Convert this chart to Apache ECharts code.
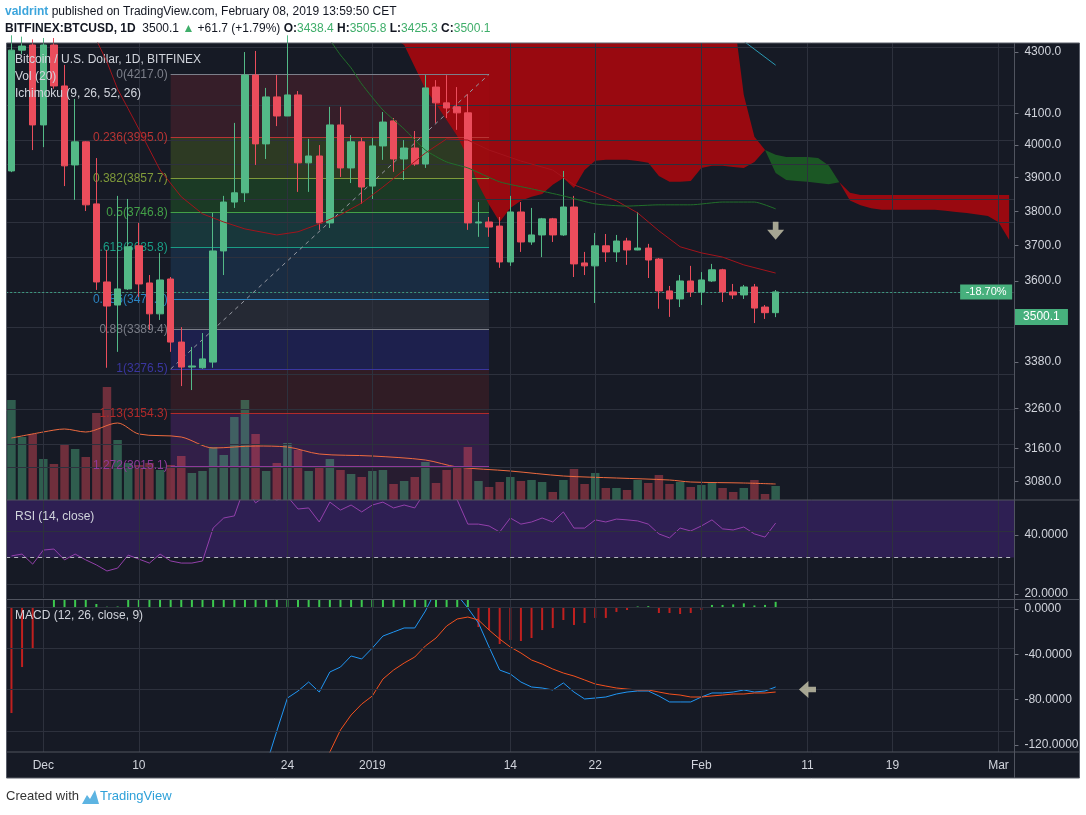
<!DOCTYPE html>
<html><head><meta charset="utf-8"><title>BTCUSD</title>
<script src="https://cdn.jsdelivr.net/npm/echarts@6.0.0/dist/echarts.min.js"></script>
<style>html,body{margin:0;padding:0;background:#fff}#chart{width:1086px;height:815px}</style>
</head><body><div id="chart"></div>
<script>
// ---------------- DATA ----------------
const categories = [
'2018-11-28','2018-11-29','2018-11-30',
'2018-12-01','2018-12-02','2018-12-03','2018-12-04','2018-12-05','2018-12-06','2018-12-07','2018-12-08','2018-12-09','2018-12-10',
'2018-12-11','2018-12-12','2018-12-13','2018-12-14','2018-12-15','2018-12-16','2018-12-17','2018-12-18','2018-12-19','2018-12-20',
'2018-12-21','2018-12-22','2018-12-23','2018-12-24','2018-12-25','2018-12-26','2018-12-27','2018-12-28','2018-12-29','2018-12-30','2018-12-31',
'2019-01-01','2019-01-02','2019-01-03','2019-01-04','2019-01-05','2019-01-06','2019-01-07','2019-01-08','2019-01-09','2019-01-10',
'2019-01-11','2019-01-12','2019-01-13','2019-01-14','2019-01-15','2019-01-16','2019-01-17','2019-01-18','2019-01-19','2019-01-20',
'2019-01-21','2019-01-22','2019-01-23','2019-01-24','2019-01-25','2019-01-26','2019-01-27','2019-01-28','2019-01-29','2019-01-30','2019-01-31',
'2019-02-01','2019-02-02','2019-02-03','2019-02-04','2019-02-05','2019-02-06','2019-02-07','2019-02-08','2019-02-09','2019-02-10',
'2019-02-11','2019-02-12','2019-02-13','2019-02-14','2019-02-15','2019-02-16','2019-02-17','2019-02-18','2019-02-19','2019-02-20',
'2019-02-21','2019-02-22','2019-02-23','2019-02-24','2019-02-25','2019-02-26','2019-02-27','2019-02-28','2019-03-01','2019-03-02'];

const tickDates = ['2018-12-01','2018-12-10','2018-12-24','2019-01-01','2019-01-14','2019-01-22','2019-02-01','2019-02-11','2019-02-19','2019-03-01'];
const tickTexts = ['Dec','10','24','2019','14','22','Feb','11','19','Mar'];

// open, close, low, high  (Nov 28 2018 -> Feb 8 2019)
const ohlc = [
[3882,4305,3878,4360],[4305,4320,4290,4355],[4324,4038,3952,4345],
[4038,4324,3962,4350],[4324,4175,4165,4350],[4175,3899,3832,4251],[3902,3980,3787,4129],[3980,3771,3751,3982],
[3774,3530,3506,3925],[3530,3458,3280,3628],[3461,3509,3325,3800],[3509,3638,3506,3790],[3641,3524,3485,3713],
[3527,3435,3388,3551],[3435,3536,3417,3619],[3539,3353,3325,3545],[3353,3282,3229,3396],[3282,3285,3218,3339],
[3280,3305,3277,3379],[3296,3625,3280,3745],[3625,3780,3551,3800],[3780,3810,3761,4045],[3810,4214,3780,4298],
[4214,3973,3902,4302],[3973,4136,3922,4168],[4136,4069,4034,4214],[4069,4143,4069,4360],[4143,3909,3813,4157],
[3909,3932,3813,3990],[3932,3713,3691,3969],[3713,4038,3697,4101],[4038,3892,3862,4101],[3892,3980,3842,4003],[3980,3829,3774,3993],
[3832,3966,3790,3993],[3966,4048,3919,4083],[4052,3922,3879,4062],[3922,3959,3852,3986],[3959,3905,3899,4017],
[3905,4168,3892,4214],[4171,4115,4045,4196],[4115,4097,4062,4214],[4101,4080,4021,4171],[4080,3713,3691,4146],
[3713,3716,3669,3780],[3716,3700,3669,3732],[3703,3591,3573,3732],[3591,3748,3579,3800],[3748,3653,3622,3780],
[3653,3675,3644,3761],[3675,3726,3606,3729],[3726,3675,3653,3729],[3675,3764,3672,3882],[3764,3585,3545,3800],
[3588,3579,3551,3622],[3579,3641,3467,3681],[3641,3622,3591,3678],[3622,3656,3591,3675],[3656,3628,3582,3666],
[3628,3634,3627,3748],[3634,3597,3542,3647],[3600,3503,3450,3603],[3503,3479,3426,3518],[3479,3533,3455,3551],[3533,3500,3485,3579],
[3500,3536,3461,3560],[3533,3567,3530,3585],[3567,3500,3470,3570],[3500,3491,3479,3524],[3491,3515,3479,3521],
[3515,3452,3408,3524],[3455,3438.4,3420,3461],[3438.4,3500.1,3425.3,3505.8]];

const volume = [20.0,12.6,13.2,
8.2,7.2,11.2,10.2,8.6,17.4,22.6,12.0,7.4,7.0,7.4,6.0,7.0,8.8,5.4,5.8,10.6,9.0,16.6,20.0,13.2,5.8,7.4,11.4,10.0,5.8,6.6,8.2,6.0,5.2,4.6,
5.8,6.0,3.2,3.8,4.6,7.6,3.4,6.0,6.4,10.6,3.8,2.6,3.6,4.6,3.8,4.0,3.6,1.6,4.0,6.2,3.2,5.4,2.4,2.4,2.0,4.0,3.4,5.0,3.2,3.6,2.6,
3.0,3.4,2.4,1.6,2.4,4.0,1.2,2.8];

const volumeMA = [['2018-11-28',12.4],['2018-12-01',13.6],['2018-12-03',14.2],['2018-12-05',13.6],['2018-12-08',15.4],
['2018-12-10',13.2],['2018-12-14',12.6],['2018-12-17',10.4],['2018-12-21',10.8],['2018-12-24',10.6],['2018-12-27',9.2],
['2019-01-01',8.8],['2019-01-06',8.0],['2019-01-09',6.6],['2019-01-14',5.8],['2019-01-19',4.8],['2019-01-24',4.4],
['2019-01-29',4.0],['2019-01-31',3.6],['2019-02-05',3.4],['2019-02-08',3.2]];

// Ichimoku lines (date, price)
const baseLine = [['2018-12-05',4380],['2018-12-06',4343],['2018-12-07',4262],['2018-12-08',4164],['2018-12-09',4094],
['2018-12-10',4024],['2018-12-12',3885],['2018-12-14',3797],['2018-12-16',3742],['2018-12-18',3716],['2018-12-20',3694],
['2018-12-23',3675],['2018-12-25',3685],['2018-12-27',3710],['2018-12-29',3739],['2018-12-31',3777],['2019-01-02',3829],
['2019-01-04',3885],['2019-01-06',3942],['2019-01-08',3990],['2019-01-10',3986],['2019-01-12',3952],['2019-01-15',3915],
['2019-01-18',3885],['2019-01-20',3836],['2019-01-22',3810],['2019-01-24',3784],['2019-01-26',3745],['2019-01-28',3688],
['2019-01-30',3638],['2019-02-01',3619],['2019-02-03',3606],['2019-02-05',3582],['2019-02-08',3557]];
const greenLine = [['2018-12-27',4391],['2018-12-28',4343],['2018-12-29',4287],['2018-12-30',4240],['2018-12-31',4182],
['2019-01-02',4090],['2019-01-04',4024],['2019-01-06',3952],['2019-01-08',3912],['2019-01-10',3892],['2019-01-13',3846],
['2019-01-16',3823],['2019-01-19',3800],['2019-01-22',3774],['2019-01-25',3767],['2019-01-28',3771],['2019-01-31',3771],
['2019-02-03',3780],['2019-02-06',3780],['2019-02-08',3758]];
const tealLine = [['2019-02-04',4368],['2019-02-08',4250]];

// Cloud boundaries
const redCloud1Start = '2019-01-03';
const redCloud1Lower = [4349,4324,4243,4164,4111,4055,4000,3925,3836,3771,3716,3761,3784,3797,3806,3836,3859,3826,3885,3916,
3919,3919,3919,3915,3909,3865,3846,3846,3849,3892,3899,3899,3895,3892,3912,3952];
const redCloud1Upper = [4450,4450,4450,4450,4450,4450,4450,4450,4450,4450,4450,4450,4450,4450,4450,4450,4450,4450,4450,4450,
4450,4450,4450,4450,4450,4450,4450,4450,4450,4450,4450,4450,4450,4143,3997,3952];
const greenCloudStart = '2019-02-07';
const greenCloudUpper = [3952,3936,3929,3929,3929,3925,3900,3845];
const greenCloudLower = [3952,3875,3852,3849,3846,3842,3838,3845];
const redCloud2Start = '2019-02-14';
const redCloud2Upper = [3845,3810,3803,3803,3803,3803,3803,3803,3803,3803,3803,3803,3803,3803,3803,3803,3803];
const redCloud2Lower = [3845,3785,3770,3760,3755,3755,3755,3755,3755,3755,3752,3748,3745,3740,3735,3715,3660];

// Fibonacci retracement
const fibStart = '2018-12-13', fibEnd = '2019-01-12';
const fibRatios = ['0','0.236','0.382','0.5','0.618','0.786','0.88','1','1.13','1.272'];
const fibLevels = [4217.0,3995.0,3857.7,3746.8,3635.8,3477.8,3389.4,3276.5,3154.3,3015.1];

// price axis
const priceGridVals = [4300,4100,4000,3900,3800,3700,3600,3500,3380,3260,3160,3080,3000];
const priceTickLabels = [4300,4100,4000,3900,3800,3700,3600,3380,3260,3160,3080];
const lastPrice = 3500.1;
const changeText = '-18.70%';

// RSI (14)
const rsi = [30.6,31.3,27.5,
32.8,33.2,29.1,31.3,29.1,27.2,24.9,26.0,30.9,29.4,27.9,31.3,28.7,27.9,27.9,28.7,41.1,44.9,45.7,57.0,50.6,53.5,51.7,53.0,48.3,48.7,43.4,50.9,47.9,49.8,47.2,
49.8,50.9,48.7,49.8,48.7,55.0,57.0,54.0,51.7,42.6,42.6,41.9,39.6,44.9,42.6,43.4,44.9,43.4,47.2,41.1,41.1,44.2,43.4,44.5,44.2,43.8,42.6,38.9,37.4,41.1,40.0,
41.9,44.2,40.8,40.4,41.5,38.9,37.7,43.0];
const rsiTickLabels = [40, 20];

// MACD (12, 26, 9)
const macd = [null,null,null,null,null,null,null,null,null,null,null,null,null,null,null,null,null,null,null,null,null,null,
-175,-160,-152.9,-120,-88.1,-81.3,-72.6,-82.3,-62.9,-58.1,-47.4,-50.3,
-39.7,-28.1,-24.2,-20.3,-20.3,-3.9,16.5,24.2,11.6,-1.0,-15.5,-38.7,-61.0,-64.8,-72.6,-77.4,-78.4,-80.3,-73.5,-82.3,-89.0,-88.1,-87.1,-84.2,-82.3,-81.3,-81.3,-86.1,-91.9,-91.9,-91.9,
-87.1,-83.2,-83.2,-82.3,-80.3,-82.3,-81.3,-77.4];
const signal = [null,null,null,null,null,null,null,null,null,null,null,null,null,null,null,null,null,null,null,null,null,null,null,null,null,null,null,null,
-170,-162.6,-140.3,-119,-104.5,-93.9,
-86.1,-69.7,-61.0,-54.2,-48.4,-37.7,-30.0,-18.4,-11.6,-9.7,-12.6,-22.3,-31.0,-38.7,-44.5,-51.3,-55.2,-60.0,-63.9,-66.8,-70.6,-74.5,-76.5,-78.4,-79.4,-80.3,-80.3,-82.3,-84.2,-85.2,-87.1,
-87.1,-86.1,-85.2,-84.2,-84.2,-83.2,-83.2,-82.3];
const histogram = [-102.6,-58.1,-39.7,
-1,20,25,22,18,2.9,0.3,0.5,12,16,20,24,26,28,30,32,40,46,50,58,56,57,58,60,58,57,50,52,50,48,44,
44,42,37,34,28,34,45,42,23,8.7,-19.4,-22.3,-35.8,-31.9,-32.9,-30.0,-22.3,-20.3,-12.6,-17.4,-15.5,-10.6,-10.6,-4.8,-2.9,0.5,0.8,-5.8,-5.8,-6.8,-5.8,
-2.9,2,2,2.5,3.5,1.5,2,5];
const macdTickLabels = [0, -40, -80, -120];

// drawing markers
const downArrowAt = ['2019-02-08', 3688];
const leftArrowAt = ['2019-02-11', -79.8];

// ---------------- CHART ----------------
const FONT = '"Liberation Sans", Arial, sans-serif';
const BG = '#161a25', GRIDC = '#2d313d', SEP = '#50545f', TXT = '#d1d4dc';
const UP = '#53b987', DN = '#eb4d5c';
const ln = Math.log;
const ci = {}; categories.forEach((c, i) => ci[c] = i);

function fullArr(start, vals, fn) {
  const a = categories.map(() => '-');
  const s = ci[start];
  vals.forEach((v, i) => { a[s + i] = fn(v, i); });
  return a;
}
function cloud(id, start, lower, upper, color) {
  const base = fullArr(start, lower, v => ln(v));
  const band = fullArr(start, upper, (v, i) => ln(v) - ln(lower[i]));
  const common = {type: 'line', stack: id, symbol: 'none', showSymbol: false, silent: true,
    xAxisIndex: 0, yAxisIndex: 0, z: 2, lineStyle: {width: 0, opacity: 0}};
  return [
    Object.assign({}, common, {id: id + 'b', data: base}),
    Object.assign({}, common, {id: id + 't', data: band, areaStyle: {color: color, opacity: 1}})
  ];
}

const fibColors = ['#7c7f8a','#b83434','#7f9a3a','#43a047','#1a9c84','#2b82c0','#7a7d87','#3a36a0','#b22a2a','#8f3a9a'];
const fibFills = ['rgba(200,50,60,0.18)','rgba(140,190,30,0.20)','rgba(50,190,40,0.20)','rgba(30,160,140,0.22)',
  'rgba(40,130,200,0.18)','rgba(130,130,140,0.15)','rgba(50,50,200,0.25)','rgba(200,40,40,0.15)','rgba(150,50,200,0.22)',
  'rgba(200,50,150,0.10)'];

const priceMinTrue = 2928.9, priceMaxTrue = 4331.4;   // plotted scale
const priceMinLab = 3036.6, priceMaxLab = 4330.2;     // label scale

const vLines = tickDates.map(d => ({xAxis: d}));
const gridLineStyle = {color: GRIDC, width: 1, type: 'solid'};

const fibBands = [];
for (let i = 0; i < fibLevels.length - 1; i++) {
  fibBands.push([{coord: [fibStart, ln(fibLevels[i])], itemStyle: {color: fibFills[i]}},
                 {coord: [fibEnd, ln(fibLevels[i + 1])]}]);
}
fibBands.push([{coord: [fibStart, ln(fibLevels[fibLevels.length - 1])], itemStyle: {color: fibFills[9]}},
               {coord: [fibEnd, ln(priceMinTrue)]}]);
const fibLines = fibLevels.map((p, i) => [
  {coord: [fibStart, ln(p)], lineStyle: {color: fibColors[i], width: 1, type: 'solid'},
   label: {show: true, position: 'start', distance: 3, formatter: fibRatios[i] + '(' + p.toFixed(1) + ')',
           color: fibColors[i], fontSize: 12, fontFamily: FONT}},
  {coord: [fibEnd, ln(p)]}
]);
fibLines.push([
  {coord: [fibStart, ln(fibLevels[7])], lineStyle: {color: '#9598a1', width: 1, type: [4, 4]}, label: {show: false}},
  {coord: [fibEnd, ln(fibLevels[0])]}
]);

const xBase = {type: 'category', data: categories, boundaryGap: true,
  axisLine: {show: false}, axisTick: {show: false}, axisLabel: {show: false}, splitLine: {show: false}};

function labelAxis(gridIndex, min, max, vals, fmt) {
  return {type: 'value', gridIndex, position: 'right', min, max,
    axisLine: {show: false}, splitLine: {show: false},
    axisTick: {show: true, length: 4, lineStyle: {color: '#6a6d78'}, customValues: vals},
    axisLabel: {show: true, customValues: vals, formatter: fmt, color: TXT, fontSize: 12, fontFamily: FONT, margin: 10}};
}
function hiddenAxis(gridIndex, min, max) {
  return {type: 'value', gridIndex, min, max, show: false, splitLine: {show: false}};
}
function txt(left, top, text) {
  return {left, top, padding: 0, text, textStyle: {color: TXT, fontSize: 12, fontWeight: 'normal', fontFamily: FONT}};
}

const downArrow = 'path://M6,0 L12,0 L12,8 L18,8 L9,18 L0,8 L6,8 Z';
const leftArrow = 'path://M18,6 L18,12 L10,12 L10,18 L0,9 L10,0 L10,6 Z';

const option = {
  animation: false,
  backgroundColor: '#ffffff',
  grid: [
    {left: 6.15, width: 1008.3, top: 43, height: 457, show: false},
    {left: 6.15, width: 1008.3, top: 500, height: 98, show: false},
    {left: 6.15, width: 1008.3, top: 600, height: 152, show: false}
  ],
  xAxis: [
    Object.assign({}, xBase, {gridIndex: 0}),
    Object.assign({}, xBase, {gridIndex: 1}),
    Object.assign({}, xBase, {gridIndex: 2, axisLabel: {show: true, color: TXT, fontSize: 12, fontFamily: FONT, margin: 8,
      interval: (i, v) => tickDates.indexOf(v) >= 0, formatter: v => tickTexts[tickDates.indexOf(v)] || ''}})
  ],
  yAxis: [
    hiddenAxis(0, ln(priceMinTrue), ln(priceMaxTrue)),
    labelAxis(0, ln(priceMinLab), ln(priceMaxLab), priceTickLabels.map(v => ln(v)), v => Math.exp(v).toFixed(1)),
    hiddenAxis(0, 0, 91.4),
    hiddenAxis(1, 14.717, 51.698),
    labelAxis(1, 18.644, 51.864, rsiTickLabels, v => v.toFixed(4)),
    hiddenAxis(2, -140.32, 6.774),
    labelAxis(2, -126.18, 7.94, macdTickLabels, v => (Math.abs(v) < 1e-9 ? 0 : v).toFixed(4))
  ],
  title: [
    {left: 5, top: 6, padding: 0, text: '{u|valdrint}{t| published on TradingView.com, February 08, 2019 13:59:50 CET}',
     textStyle: {fontSize: 12, fontWeight: 'normal', fontFamily: FONT, rich: {
       u: {color: '#3ca5dc', fontWeight: 'bold', fontSize: 12, fontFamily: FONT},
       t: {color: '#131722', fontWeight: 'normal', fontSize: 12, fontFamily: FONT}}}},
    {left: 5, top: 23, padding: 0,
     text: '{b|BITFINEX:BTCUSD, 1D}{n|  3500.1 }{g|▲}{n| +61.7 (+1.79%) }{b|O:}{g|3438.4 }{b|H:}{g|3505.8 }{b|L:}{g|3425.3 }{b|C:}{g|3500.1}',
     textStyle: {fontSize: 12, fontWeight: 'normal', fontFamily: FONT, rich: {
       b: {color: '#131722', fontWeight: 'bold', fontSize: 12, fontFamily: FONT},
       n: {color: '#131722', fontWeight: 'normal', fontSize: 12, fontFamily: FONT},
       g: {color: '#3fae6a', fontWeight: 'normal', fontSize: 12, fontFamily: FONT}}}},
    txt(15, 54, 'Bitcoin / U.S. Dollar, 1D, BITFINEX'),
    txt(15, 71, 'Vol (20)'),
    txt(15, 88, 'Ichimoku (9, 26, 52, 26)'),
    txt(15, 511, 'RSI (14, close)'),
    txt(15, 610, 'MACD (12, 26, close, 9)'),
    {left: 6, top: 790, padding: 0, text: '{a|Created with}{s|}{b|TradingView}',
     textStyle: {fontSize: 13, fontWeight: 'normal', fontFamily: FONT, rich: {
       a: {color: '#333', fontWeight: 'normal', fontSize: 13, fontFamily: FONT},
       s: {width: 21, fontSize: 13},
       b: {color: '#2ea1d9', fontWeight: 'normal', fontSize: 13, fontFamily: FONT}}}}
  ],
  graphic: [
    {type: 'rect', z: -10, silent: true, shape: {x: 6.5, y: 43, width: 1073, height: 735}, style: {fill: BG}},
    {type: 'rect', z: 100, silent: true, shape: {x: 6.5, y: 43, width: 1073, height: 735}, style: {fill: null, stroke: '#5a5e69', lineWidth: 1}},
    {type: 'line', z: 100, silent: true, shape: {x1: 6.5, y1: 500, x2: 1079.5, y2: 500}, style: {stroke: SEP, lineWidth: 1}},
    {type: 'line', z: 100, silent: true, shape: {x1: 6.5, y1: 599.5, x2: 1079.5, y2: 599.5}, style: {stroke: SEP, lineWidth: 1}},
    {type: 'line', z: 100, silent: true, shape: {x1: 6.5, y1: 752, x2: 1079.5, y2: 752}, style: {stroke: SEP, lineWidth: 1}},
    {type: 'line', z: 100, silent: true, shape: {x1: 1014.5, y1: 43, x2: 1014.5, y2: 778}, style: {stroke: SEP, lineWidth: 1}},
    {type: 'polygon', z: 100, silent: true, shape: {points: [[82,804],[87,795],[90,799],[95,790],[99,804]]}, style: {fill: '#5db4e2'}}
  ],
  series: [
    // volume
    {type: 'bar', xAxisIndex: 0, yAxisIndex: 2, z: 1, barWidth: 8.5, silent: true,
     data: volume.map((v, i) => ({value: v, itemStyle: {color: ohlc[i][1] >= ohlc[i][0] ? 'rgba(83,185,135,0.42)' : 'rgba(235,77,92,0.42)'}}))},
    {type: 'line', xAxisIndex: 0, yAxisIndex: 2, z: 1, symbol: 'none', smooth: 0.3, silent: true,
     data: volumeMA, lineStyle: {color: '#ee6a3f', width: 1}},
    // clouds
    ...cloud('rc1', redCloud1Start, redCloud1Lower, redCloud1Upper, 'rgba(165,8,14,0.92)'),
    ...cloud('gc', greenCloudStart, greenCloudLower, greenCloudUpper, 'rgba(28,92,36,0.92)'),
    ...cloud('rc2', redCloud2Start, redCloud2Lower, redCloud2Upper, 'rgba(165,8,14,0.92)'),
    // grid lines (price pane)
    {type: 'line', xAxisIndex: 0, yAxisIndex: 0, z: 3, data: [], silent: true,
     markLine: {silent: true, symbol: ['none', 'none'], label: {show: false}, lineStyle: gridLineStyle, animation: false,
       data: priceGridVals.map(v => ({yAxis: ln(v)})).concat(vLines)}},
    // candles
    {type: 'candlestick', xAxisIndex: 0, yAxisIndex: 0, z: 5, barWidth: 7, silent: true,
     data: ohlc.map(r => [ln(r[0]), ln(r[1]), ln(r[2]), ln(r[3])]),
     itemStyle: {color: UP, color0: DN, borderColor: UP, borderColor0: DN, borderWidth: 1}},
    // fib
    {type: 'line', xAxisIndex: 0, yAxisIndex: 0, z: 6, data: [], silent: true,
     markArea: {silent: true, data: fibBands},
     markLine: {silent: true, symbol: ['none', 'none'], animation: false, data: fibLines}},
    // ichimoku lines
    {type: 'line', xAxisIndex: 0, yAxisIndex: 0, z: 7, symbol: 'none', silent: true,
     data: baseLine.map(p => [p[0], ln(p[1])]), lineStyle: {color: '#a3141c', width: 1}},
    {type: 'line', xAxisIndex: 0, yAxisIndex: 0, z: 7, symbol: 'none', silent: true, smooth: 0.2,
     data: greenLine.map(p => [p[0], ln(p[1])]), lineStyle: {color: '#22702b', width: 1}},
    {type: 'line', xAxisIndex: 0, yAxisIndex: 0, z: 7, symbol: 'none', silent: true,
     data: tealLine.map(p => [p[0], ln(p[1])]), lineStyle: {color: '#2a9bb5', width: 1}},
    // last price line + change box
    {type: 'line', xAxisIndex: 0, yAxisIndex: 0, z: 8, data: [], silent: true,
     markLine: {silent: true, symbol: ['none', 'none'], label: {show: false}, animation: false,
       lineStyle: {color: '#3d9a80', width: 1, type: [2, 2]}, data: [{yAxis: ln(lastPrice)}]},
     markPoint: {silent: true, animation: false, data: [{coord: ['2019-03-02', ln(lastPrice)], symbol: 'rect',
       symbolSize: [52, 15], symbolOffset: [-23, 0], itemStyle: {color: '#47b07d'},
       label: {show: true, position: 'inside', formatter: changeText, color: '#fff', fontSize: 11, fontFamily: FONT}}]}},
    // last price axis box (label scale)
    {type: 'line', xAxisIndex: 0, yAxisIndex: 1, z: 9, data: [], silent: true,
     markPoint: {silent: true, animation: false, data: [{coord: ['2019-03-02', ln(lastPrice)], symbol: 'rect',
       symbolSize: [53, 16], symbolOffset: [32.3, 0], itemStyle: {color: '#47b07d'},
       label: {show: true, position: 'inside', formatter: lastPrice.toFixed(1), color: '#fff', fontSize: 12, fontFamily: FONT}}]}},
    // arrows
    {type: 'scatter', xAxisIndex: 0, yAxisIndex: 0, z: 9, silent: true, symbol: downArrow, symbolSize: [17, 18],
     itemStyle: {color: '#cbc8ae'}, data: [[downArrowAt[0], ln(downArrowAt[1])]]},
    {type: 'scatter', xAxisIndex: 2, yAxisIndex: 5, z: 9, silent: true, symbol: leftArrow, symbolSize: [17, 17],
     itemStyle: {color: '#cbc8ae'}, data: [leftArrowAt]},
    // RSI pane
    {type: 'line', xAxisIndex: 1, yAxisIndex: 3, z: 2, data: [], silent: true,
     markArea: {silent: true, data: [[{yAxis: 30, itemStyle: {color: 'rgba(125,50,230,0.24)'}}, {yAxis: 70}]]},
     markLine: {silent: true, symbol: ['none', 'none'], label: {show: false}, animation: false, lineStyle: gridLineStyle,
       data: [{yAxis: 40}, {yAxis: 20}].concat(vLines)}},
    {type: 'line', xAxisIndex: 1, yAxisIndex: 3, z: 3, data: [], silent: true,
     markLine: {silent: true, symbol: ['none', 'none'], label: {show: false}, animation: false,
       lineStyle: {color: '#b5b7bf', width: 1, type: [4, 4]}, data: [{yAxis: 30}]}},
    {type: 'line', xAxisIndex: 1, yAxisIndex: 3, z: 4, symbol: 'none', silent: true, data: rsi,
     lineStyle: {color: '#9340ab', width: 1}},
    // MACD pane
    {type: 'line', xAxisIndex: 2, yAxisIndex: 5, z: 2, data: [], silent: true,
     markLine: {silent: true, symbol: ['none', 'none'], label: {show: false}, animation: false, lineStyle: gridLineStyle,
       data: macdTickLabels.map(v => ({yAxis: v})).concat(vLines)}},
    {type: 'bar', xAxisIndex: 2, yAxisIndex: 5, z: 3, barWidth: 2, silent: true,
     data: histogram.map(v => ({value: v, itemStyle: {color: v >= 0 ? '#3cc84e' : '#c0201f'}}))},
    {type: 'line', xAxisIndex: 2, yAxisIndex: 5, z: 4, symbol: 'none', silent: true, data: macd,
     lineStyle: {color: '#2196f3', width: 1}},
    {type: 'line', xAxisIndex: 2, yAxisIndex: 5, z: 4, symbol: 'none', silent: true, data: signal,
     lineStyle: {color: '#f4511e', width: 1}}
  ]
};

const chart = echarts.init(document.getElementById('chart'), null, {renderer: 'canvas'});
chart.setOption(option);
</script></body></html>
